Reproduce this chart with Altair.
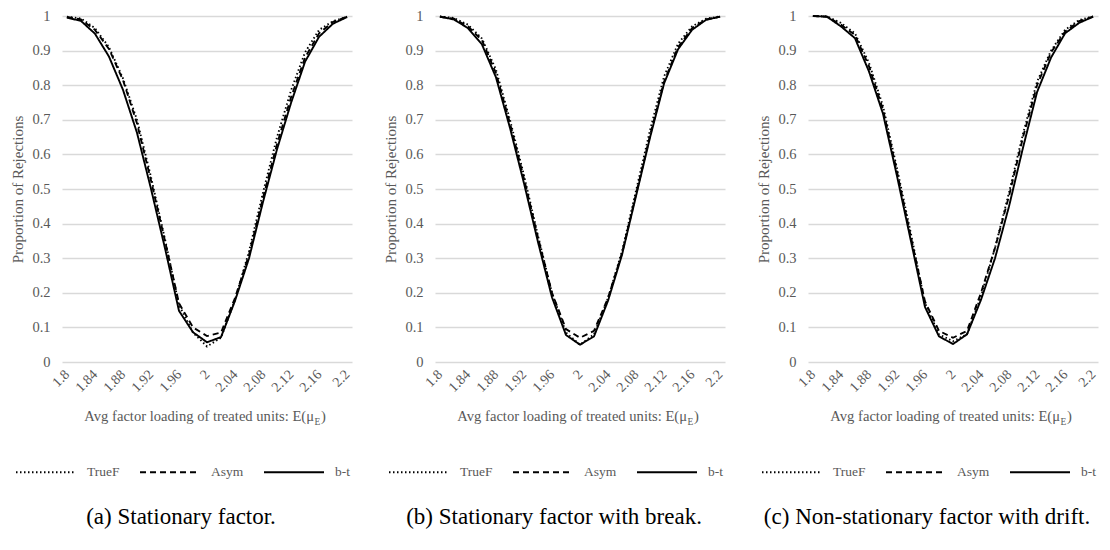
import altair as alt
import pandas as pd

x_vals = [1.80, 1.82, 1.84, 1.86, 1.88, 1.90, 1.92, 1.94, 1.96, 1.98, 2.00,
          2.02, 2.04, 2.06, 2.08, 2.10, 2.12, 2.14, 2.16, 2.18, 2.20]
x_ticks = [1.8, 1.84, 1.88, 1.92, 1.96, 2.0, 2.04, 2.08, 2.12, 2.16, 2.2]
series_names = ["TrueF", "Asym", "b-t"]

a_truef = [0.998, 0.993, 0.965, 0.910, 0.820, 0.700, 0.535, 0.355, 0.165, 0.085, 0.045,
           0.070, 0.180, 0.320, 0.490, 0.650, 0.785, 0.895, 0.960, 0.985, 0.998]
a_asym = [0.997, 0.990, 0.960, 0.905, 0.815, 0.690, 0.525, 0.350, 0.170, 0.100, 0.075,
          0.085, 0.185, 0.310, 0.475, 0.630, 0.765, 0.880, 0.950, 0.983, 0.998]
a_bt = [0.995, 0.986, 0.949, 0.883, 0.787, 0.663, 0.501, 0.329, 0.148, 0.086, 0.057,
        0.072, 0.177, 0.300, 0.463, 0.615, 0.749, 0.868, 0.940, 0.978, 0.997]

b_truef = [0.999, 0.994, 0.975, 0.935, 0.845, 0.700, 0.540, 0.365, 0.200, 0.085, 0.050,
           0.080, 0.185, 0.320, 0.495, 0.670, 0.825, 0.920, 0.970, 0.992, 0.999]
b_asym = [0.998, 0.992, 0.970, 0.930, 0.835, 0.690, 0.530, 0.360, 0.200, 0.095, 0.070,
          0.090, 0.185, 0.315, 0.485, 0.655, 0.810, 0.910, 0.965, 0.990, 0.998]
b_bt = [0.998, 0.990, 0.965, 0.918, 0.823, 0.677, 0.517, 0.347, 0.187, 0.078, 0.050,
        0.074, 0.177, 0.310, 0.480, 0.649, 0.805, 0.904, 0.960, 0.989, 0.998]

c_truef = [1.000, 0.999, 0.980, 0.950, 0.865, 0.740, 0.560, 0.370, 0.170, 0.080, 0.060,
           0.080, 0.190, 0.330, 0.490, 0.660, 0.810, 0.900, 0.960, 0.988, 0.999]
c_asym = [1.000, 0.998, 0.975, 0.945, 0.855, 0.730, 0.550, 0.360, 0.175, 0.090, 0.070,
          0.090, 0.200, 0.330, 0.480, 0.650, 0.800, 0.895, 0.955, 0.985, 0.998]
c_bt = [1.000, 0.998, 0.970, 0.936, 0.840, 0.718, 0.538, 0.349, 0.159, 0.074, 0.052,
        0.080, 0.180, 0.300, 0.450, 0.620, 0.780, 0.880, 0.950, 0.980, 0.998]

captions = ["(a) Stationary factor.", "(b) Stationary factor with break.",
            "(c) Non-stationary factor with drift."]
panels = [(a_truef, a_asym, a_bt), (b_truef, b_asym, b_bt), (c_truef, c_asym, c_bt)]

FONT = "Liberation Serif, Times New Roman, Times, serif"
GRAY = "#595959"
W, H = 290, 346


def make_panel(vals, caption):
    rows = []
    for name, ys in zip(series_names, vals):
        for x, y in zip(x_vals, ys):
            rows.append({"x": x, "y": y, "series": name})
    df = pd.DataFrame(rows)

    lines = alt.Chart(df).mark_line(color="black", strokeWidth=1.9).encode(
        x=alt.X("x:Q",
                scale=alt.Scale(domain=[1.793, 2.207], nice=False, zero=False),
                axis=alt.Axis(values=x_ticks, format=".2~f", labelAngle=-45,
                              labelAlign="right", labelBaseline="middle",
                              labelOverlap=False, labelFlush=False,
                              labelFontSize=14,
                              grid=False, ticks=False, domain=False,
                              labelPadding=10, title=None)),
        y=alt.Y("y:Q",
                scale=alt.Scale(domain=[0, 1], nice=False),
                axis=alt.Axis(values=[i / 10 for i in range(11)], format="~g",
                              title="Proportion of Rejections", titleFontSize=15,
                              titleFontWeight="normal", titleColor=GRAY,
                              titlePadding=6, minExtent=31, labelPadding=12,
                              labelFontSize=14.5,
                              ticks=False, domain=False, gridColor="#d9d9d9",
                              gridWidth=1.5)),
        strokeDash=alt.StrokeDash(
            "series:N",
            scale=alt.Scale(domain=series_names,
                            range=[[1.5, 2.5], [6, 4], [1, 0]]),
            legend=alt.Legend(orient="none", legendX=-47, legendY=H + 79,
                              direction="horizontal", title=None,
                              symbolType="stroke", symbolSize=3600,
                              symbolStrokeWidth=2, symbolStrokeColor="black",
                              labelFont=FONT, labelFontSize=13.5,
                              labelColor=GRAY, labelOffset=10,
                              columnPadding=16)),
        detail="series:N",
    )

    base_txt = alt.Chart(pd.DataFrame({"t": [0]}))
    X = W / 2 + 107
    t_main = base_txt.mark_text(font=FONT, fontSize=14.6, color=GRAY,
                                align="right", baseline="middle").encode(
        x=alt.value(X), y=alt.value(H + 55),
        text=alt.value("Avg factor loading of treated units: E(\u03bc"))
    t_sub = base_txt.mark_text(font=FONT, fontSize=9.5, color=GRAY,
                               align="left", baseline="middle").encode(
        x=alt.value(X + 0.5), y=alt.value(H + 60),
        text=alt.value("E"))
    t_close = base_txt.mark_text(font=FONT, fontSize=14.6, color=GRAY,
                                 align="left", baseline="middle").encode(
        x=alt.value(X + 7), y=alt.value(H + 55),
        text=alt.value(")"))

    return alt.layer(lines, t_main, t_sub, t_close).properties(
        width=W, height=H,
        title=alt.TitleParams(caption, orient="bottom", anchor="middle",
                              frame="bounds",
                              font=FONT, fontSize=23, fontWeight="normal",
                              color="black", offset=27),
    )


chart = alt.hconcat(*[make_panel(v, c) for v, c in zip(panels, captions)],
                    spacing=30).resolve_legend(strokeDash="independent").resolve_scale(
    strokeDash="independent").configure_axis(
    labelFont=FONT, titleFont=FONT, labelColor=GRAY
).configure_view(stroke=None).properties(padding={"left": 2, "top": 0, "right": 0, "bottom": 0})

chart.save("out.html", embed_options={"renderer": "svg", "actions": False})
